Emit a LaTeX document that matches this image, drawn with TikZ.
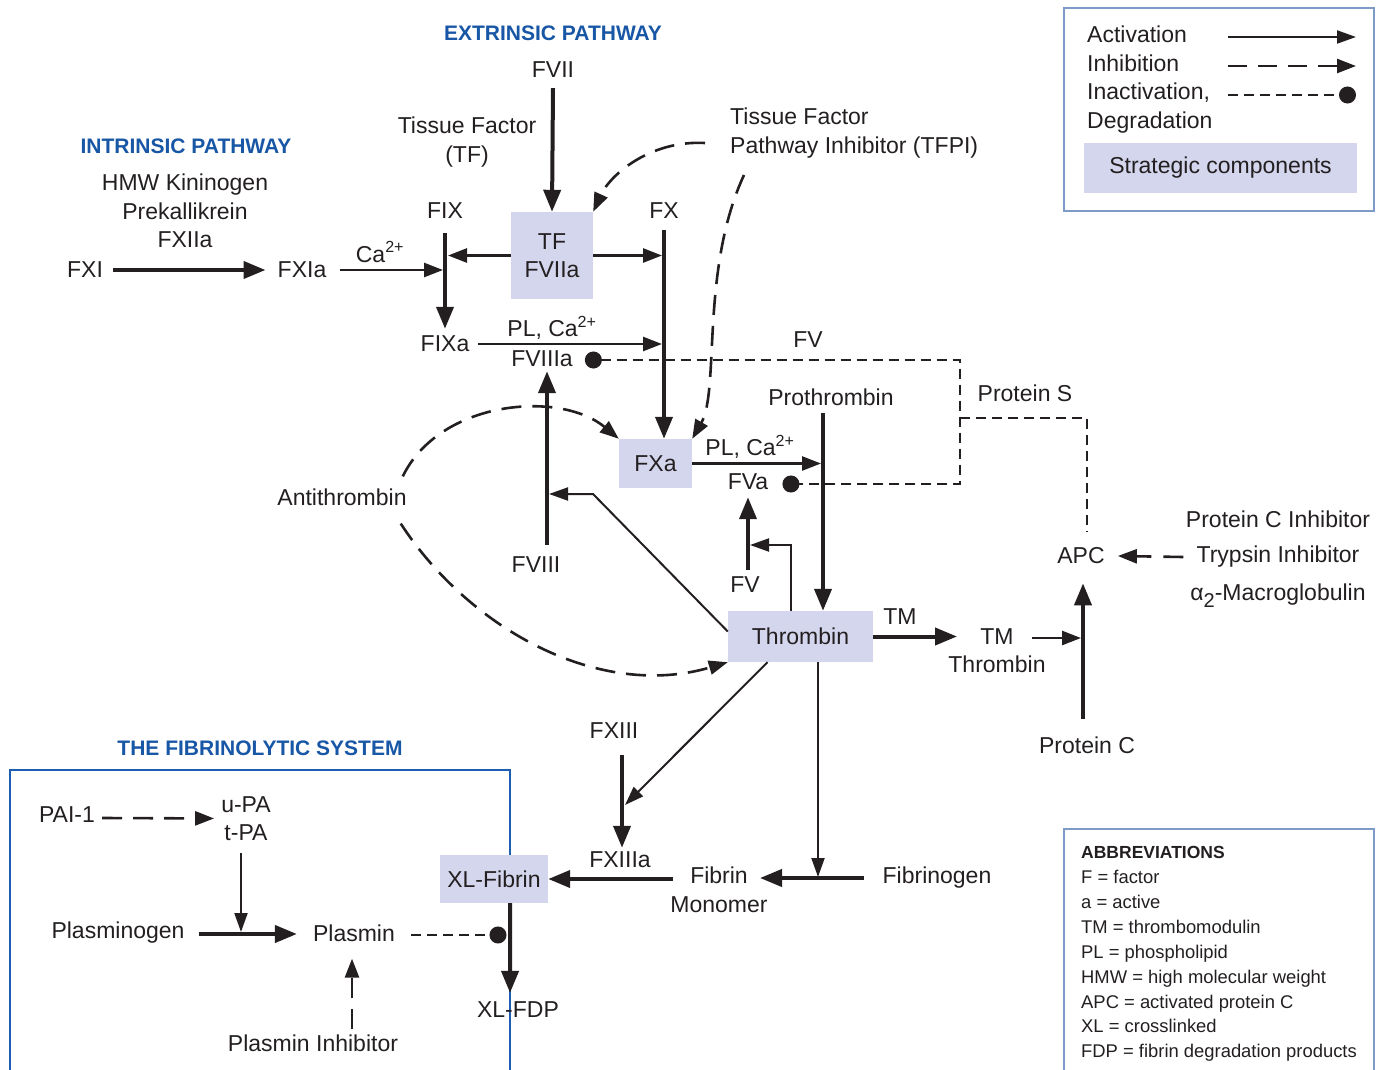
\documentclass[tikz,border=0pt]{standalone}
\usepackage{fontspec}
\setmainfont{Liberation Sans}
\usetikzlibrary{arrows.meta,calc}
\definecolor{txt}{RGB}{35,31,32}
\definecolor{ttl}{RGB}{24,86,166}
\definecolor{frm}{RGB}{30,94,176}
\definecolor{lgb}{RGB}{125,155,198}
\definecolor{strat}{RGB}{211,214,236}
\tikzset{
  lbl/.style={text=txt, inner sep=0pt, font=\fontsize{23}{28.5}\selectfont},
  ttlst/.style={text=ttl, inner sep=0pt, font=\fontsize{21}{24}\selectfont\bfseries},
  sbox/.style={fill=strat, inner sep=0pt, text=txt, font=\fontsize{23}{28.5}\selectfont, align=center},
  thk/.style={draw=txt, line width=4pt, -{Triangle[length=22pt,width=17pt]}},
  med/.style={draw=txt, line width=2.6pt, -{Triangle[length=19pt,width=14pt]}},
  thn/.style={draw=txt, line width=2pt, -{Triangle[length=19pt,width=13pt]}},
  inh/.style={draw=txt, line width=2.6pt, dash pattern=on 20pt off 11pt, -{Triangle[length=19pt,width=14pt]}},
  ina/.style={draw=txt, line width=2.6pt, dash pattern=on 10pt off 6pt},
  dotend/.style={-{Circle[length=17pt]}},
}
\begin{document}
\begin{tikzpicture}[x=1pt,y=-1pt]
\useasboundingbox (0,0) rectangle (1384,1070);
\clip (0,0) rectangle (1384,1070);

% frames
\draw[frm, line width=2.5pt] (10,1090) |- (510,770) -- (510,1090);
\draw[lgb, line width=1.5pt] (1064,8) rectangle (1374,211);
\draw[lgb, line width=1.5pt] (1064,1090) |- (1374,829) -- (1374,1090);

% titles
\node[ttlst] (text) at (553,33) {EXTRINSIC PATHWAY};
\node[ttlst] (tint) at (186,146) {INTRINSIC PATHWAY};
\node[ttlst] (tfib) at (260,748) {THE FIBRINOLYTIC SYSTEM};

% legend
\node[lbl, align=left, anchor=north west] (legtxt) at (1087,26) {Activation\\Inhibition\\Inactivation,\\Degradation};
\node[sbox, minimum width=273pt, minimum height=50pt] (strat) at (1220.5,168) {Strategic components};
\coordinate (l1a) at (1228,37); \coordinate (l1b) at (1356,37);
\coordinate (l2a) at (1228,66); \coordinate (l2b) at (1356,66);
\coordinate (l3a) at (1228,95); \coordinate (l3b) at (1356,95);
\draw[thn] (l1a) -- (l1b);
\draw[inh, dash pattern=on 19pt off 11pt] (l2a) -- (l2b);
\draw[ina, dotend] (l3a) -- (l3b);

% abbreviations
\node[anchor=west, font=\fontsize{17.5}{20}\selectfont\bfseries, text=txt, inner sep=0pt] (abt) at (1081,852) {ABBREVIATIONS};
\node[anchor=north west, align=left, font=\fontsize{18.4}{24.9}\selectfont, text=txt, inner sep=0pt] (abl) at (1081,870) {F = factor\\a = active\\TM = thrombomodulin\\PL = phospholipid\\HMW = high molecular weight\\APC = activated protein C\\XL = crosslinked\\FDP = fibrin degradation products};

% strategic boxes
\node[sbox, minimum width=82pt, minimum height=87pt] (tf) at (552,255.5) {TF\\FVIIa};
\node[sbox, minimum width=73pt, minimum height=49pt] (fxa) at (655.5,463.5) {FXa};
\node[sbox, minimum width=145pt, minimum height=51pt] (thr) at (800.5,636.5) {Thrombin};
\node[sbox, minimum width=108pt, minimum height=48pt] (xlf) at (494,879) {XL-Fibrin};

% labels
\node[lbl] (fvii) at (553,70) {FVII};
\node[lbl, align=center, anchor=north] (tfl) at (467,117) {Tissue Factor\\(TF)};
\node[lbl, align=left, anchor=north west] (tfpi) at (730,108) {Tissue Factor\\Pathway Inhibitor (TFPI)};
\node[lbl, align=center, anchor=north] (hmw) at (185,174) {HMW Kininogen\\Prekallikrein\\FXIIa};
\node[lbl] (fxi) at (85,270) {FXI};
\node[lbl] (fxia) at (302,270) {FXIa};
\node[lbl] (ca) at (380,252) {Ca\textsuperscript{2+}};
\node[lbl] (fix) at (445,211) {FIX};
\node[lbl] (fixa) at (445,344) {FIXa};
\node[lbl] (plca1) at (552,328) {PL, Ca\textsuperscript{2+}};
\node[lbl] (fviiia) at (542,359) {FVIIIa};
\node[lbl] (fx) at (664,211) {FX};
\node[lbl] (plca2) at (750,447) {PL, Ca\textsuperscript{2+}};
\node[lbl] (fva) at (748,482) {FVa};
\node[lbl] (fvtop) at (808,340) {FV};
\node[lbl] (proth) at (831,397) {Prothrombin};
\node[lbl] (prots) at (1025,393) {Protein S};
\node[lbl] (fviii) at (536,565) {FVIII};
\node[lbl] (fv) at (745,585) {FV};
\node[lbl] (athr) at (342,497) {Antithrombin};
\node[lbl] (tm) at (900,617) {TM};
\node[lbl, align=center, anchor=north] (tmthr) at (997,628) {TM\\Thrombin};
\node[lbl] (apc) at (1081,556) {APC};
\node[lbl] (protc) at (1087,745) {Protein C};
\node[lbl] (pci) at (1278,519) {Protein C Inhibitor};
\node[lbl] (ti) at (1278,557) {Trypsin Inhibitor};
\node[lbl] (a2m) at (1278,596) {α\raisebox{-7pt}{\fontsize{20}{20}\selectfont 2}-Macroglobulin};
\node[lbl] (fxiii) at (614,731) {FXIII};
\node[lbl] (fxiiia) at (620,860) {FXIIIa};
\node[lbl] (fibg) at (937,878) {Fibrinogen};
\node[lbl, align=center, anchor=north] (fibm) at (719,867) {Fibrin\\Monomer};
\node[lbl] (pai) at (67,815) {PAI-1};
\node[lbl, align=center, anchor=north] (upa) at (246,796) {u-PA\\t-PA};
\node[lbl] (plg) at (118,933) {Plasminogen};
\node[lbl] (pls) at (354,933) {Plasmin};
\node[lbl] (xlfdp) at (518,1010) {XL-FDP};
\node[lbl] (plsi) at (313,1043) {Plasmin Inhibitor};

% junction coordinates
\coordinate (fixtop) at (445,233);
\coordinate (fxtop) at (664,230);
\coordinate (fvc1) at (960,360);
\coordinate (fvc2) at (960,484);
\coordinate (psc) at (960,418);
\coordinate (psc2) at (1087,418);
\coordinate (psend) at (1087,532);
\coordinate (ptop) at (823,413);
\coordinate (b1) at (593,494);
\coordinate (fviiiln) at (547,494);
\coordinate (b2) at (791,545);
\coordinate (fvln) at (748,545);
\coordinate (tmin) at (957,636.5);
\coordinate (tmout) at (1032,638);
\coordinate (apcln) at (1083,638);
\coordinate (fxiiiln) at (622,805);
\coordinate (fibln) at (818,878);
\coordinate (fibin) at (760,878);
\coordinate (fibout) at (673,879);
\coordinate (plgln) at (241,934);
\coordinate (plsdot) at (506.5,935);

% extrinsic / intrinsic
\draw[thk] ($(fvii.south)+(0,10)$) -- (tf.north);
\draw[thk] (fixtop) -- ($(fixa.north)+(0,-7)$);
\draw[med] (tf.west) -- ($(fixtop |- tf.west)+(3,0)$);
\draw[thk] (fxtop) -- (fxtop |- fxa.north);
\draw[med] (tf.east) -- ($(fxtop |- tf.east)+(-2,0)$);
\draw[thk, shorten <=10pt, shorten >=12pt] (fxi) -- (fxia);
\draw[med] ($(fxia.east)+(14,0)$) -- ($(fixtop |- fxia.east)+(-2,0)$);
\draw[med] ($(fixa.east)+(9,0)$) -- ($(fxtop |- fixa.east)+(-2,0)$);

% TFPI
\draw[inh] ($(tfpi.north west)+(-25,35)$) .. controls (650,140) and (610,175) .. (tf.north east);
\draw[inh] ($(tfpi.north west)+(14,67)$) .. controls (700,270) and (720,390) .. (fxa.north east);

% FV / FVIII inactivation
\draw[ina, {Circle[length=17pt]}-{Circle[length=17pt]}] ($(fviiia.east)+(12,1)$) -- (fvc1) -- (fvc2) -- ($(fva.east |- fvc2)+(14,0)$);
\draw[ina] (psc) -- (psc2) -- (psend);

% prothrombin
\draw[med] (fxa.east) -- ($(ptop |- fxa.east)+(-2,0)$);
\draw[thk] (ptop) -- (ptop |- thr.north);

% FVIII, FV feedback
\draw[thk] ($(fviii.north)+(11,-12)$) -- ($(fviiia.south)+(5,4)$);
\draw[thn] ($(thr.west)+(0,-5)$) -- (b1) -- ($(fviiiln)+(2,0)$);
\draw[thk] ($(fv.north)+(3,-7)$) -- ($(fva.south)+(0,7)$);
\draw[thn] (b2 |- thr.north) -- (b2) -- ($(fvln)+(2,0)$);

% antithrombin
\draw[inh] ($(athr.north east)+(-4,-12)$) .. controls (440,400) and (560,390) .. (fxa.north west);
\draw[inh] ($(athr.south east)+(-6,18)$) .. controls (470,630) and (600,700) .. (thr.south west);

% TM, APC
\draw[thk] (thr.east) -- (tmin);
\draw[med] (tmout) -- ($(apcln)+(-2,0)$);
\draw[thk] ($(protc.north)+(-4,-17)$) -- ($(apc.south)+(2,19)$);
\draw[inh, dash pattern=on 20pt off 12pt] ($(ti.west)+(-13,0)$) -- ($(apc.east)+(13,0)$);

% fibrin formation
\draw[thk] ($(fxiii.south)+(8,16)$) -- ($(fxiiia.north)+(2,-4)$);
\draw[thn] ($(thr.south)+(-33,0)$) -- ($(fxiiiln)+(3,0)$);
\draw[thn] (fibln |- thr.south) -- ($(fibln)+(0,-1)$);
\draw[thk] ($(fibg.west)+(-18,0)$) -- (fibin);
\draw[thk] (fibout) -- (xlf.east);
\draw[thk] ($(xlf.south east)+(-38,0)$) -- ($(xlfdp.north)+(-8,-9)$);

% fibrinolysis
\draw[inh] ($(pai.east)+(7,3)$) -- ($(upa.west)+(-7,0)$);
\draw[thn] ($(upa.south)+(-5,12)$) -- ($(plgln)+(0,-2)$);
\draw[thk] ($(plg.east)+(14,1)$) -- ($(pls.west)+(-16,1)$);
\draw[ina, dotend] ($(pls.east)+(16,2)$) -- (plsdot);
\draw[inh] ($(plsi.north)+(39,-5)$) -- ($(pls.south)+(-2,17)$);
\end{tikzpicture}
\end{document}
